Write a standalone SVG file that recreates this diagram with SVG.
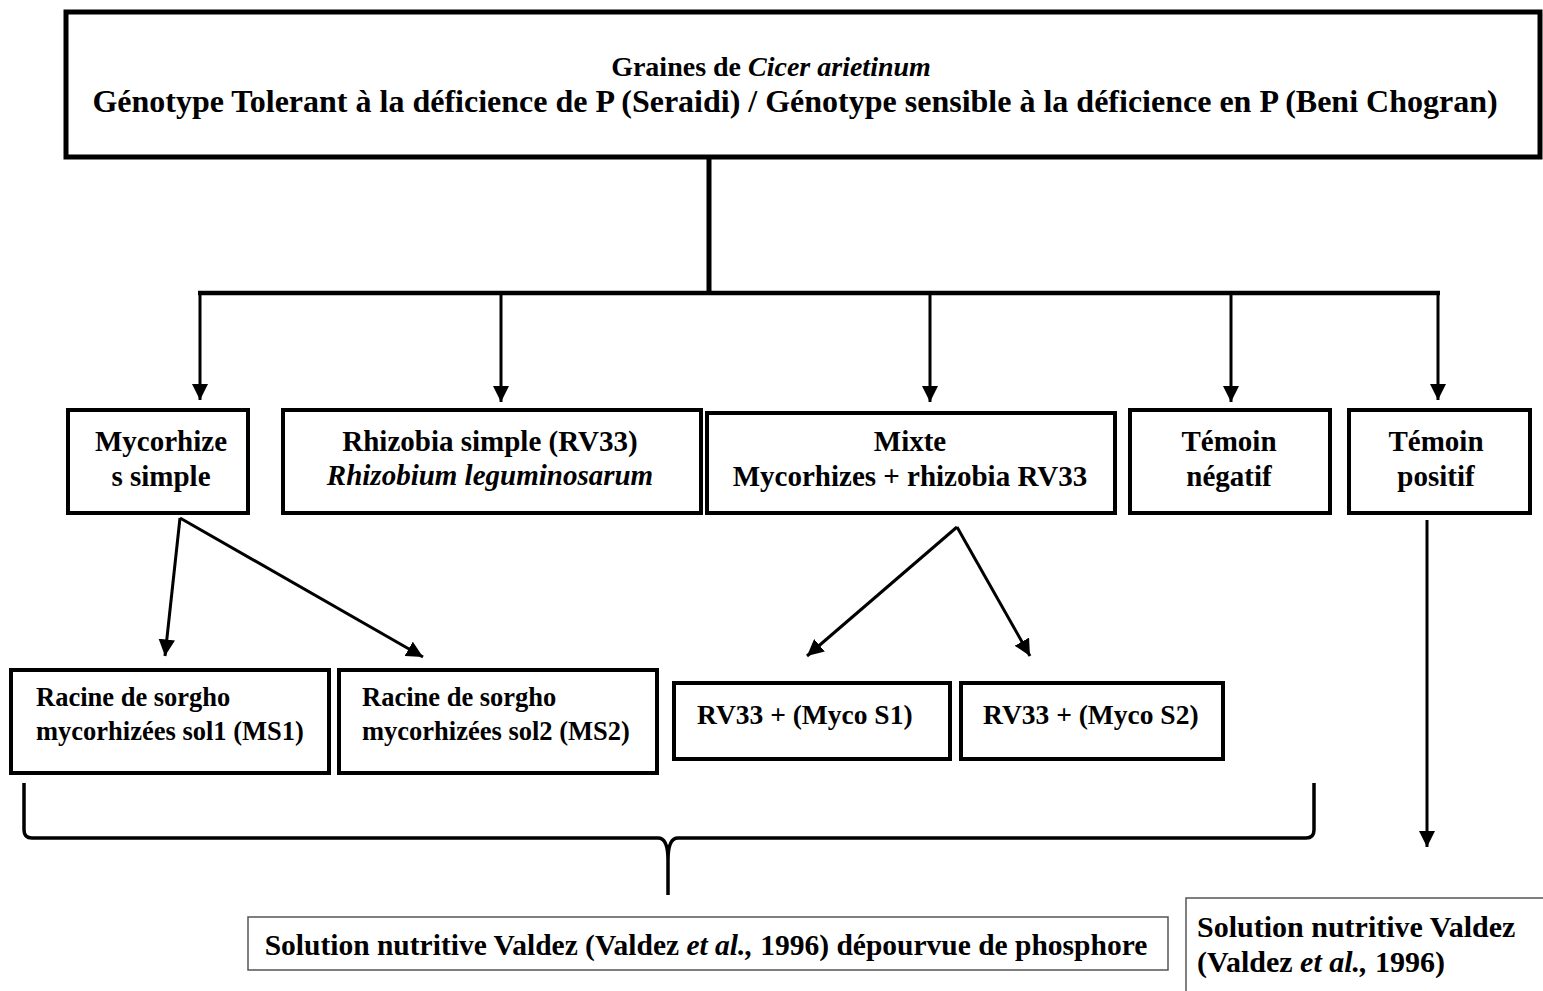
<svg xmlns="http://www.w3.org/2000/svg" width="1543" height="991" viewBox="0 0 1543 991">
<style>
.box{fill:#fff;stroke:#000;stroke-width:4}
.thin{fill:#fff;stroke:#555;stroke-width:1.5}
.t{font-family:"Liberation Serif","Times New Roman",serif;font-weight:bold;fill:#000}
.c{text-anchor:middle}
.ln{stroke:#000;stroke-width:3;fill:none}
.it{font-style:italic}
.f2{font-size:29px}
.f3{font-size:26.5px}
</style>
<defs>
<marker id="ah" viewBox="0 0 10 10" refX="10" refY="5" markerWidth="5.5" markerHeight="5.5" orient="auto" markerUnits="strokeWidth">
<path d="M0,0 L10,5 L0,10 z" fill="#000"/>
</marker>
</defs>
<rect width="1543" height="991" fill="#fff"/>
<g id="connectors">
<line x1="709" y1="157" x2="709" y2="293" stroke="#000" stroke-width="5"/>
<line x1="198" y1="293" x2="1440" y2="293" stroke="#000" stroke-width="4.5"/>
<line class="ln" x1="200" y1="293" x2="200" y2="400" marker-end="url(#ah)"/>
<line class="ln" x1="501" y1="293" x2="501" y2="402" marker-end="url(#ah)"/>
<line class="ln" x1="930" y1="293" x2="930" y2="402" marker-end="url(#ah)"/>
<line class="ln" x1="1231" y1="293" x2="1231" y2="402" marker-end="url(#ah)"/>
<line class="ln" x1="1438" y1="293" x2="1438" y2="400" marker-end="url(#ah)"/>
<line class="ln" x1="180" y1="518" x2="165" y2="656" marker-end="url(#ah)"/>
<line class="ln" x1="180" y1="518" x2="423" y2="657" marker-end="url(#ah)"/>
<line class="ln" x1="957" y1="527" x2="807" y2="656" marker-end="url(#ah)"/>
<line class="ln" x1="957" y1="527" x2="1030" y2="656" marker-end="url(#ah)"/>
<line class="ln" x1="1427" y1="520" x2="1427" y2="847" marker-end="url(#ah)"/>
<path d="M24,783 L24,830 Q24,838 32,838 L658,838 Q668,838 668,860 L668,895 M668,860 Q668,838 678,838 L1306,838 Q1314,838 1314,830 L1314,783" stroke="#000" stroke-width="3.5" fill="none"/>
</g>
<g id="top">
<rect x="66" y="12" width="1474" height="145" fill="#fff" stroke="#000" stroke-width="5"/>
<text class="t c" x="771" y="76" font-size="28">Graines de <tspan class="it">Cicer arietinum</tspan></text>
<text class="t c" x="795" y="112" font-size="32">Génotype Tolerant à la déficience de P (Seraidi) / Génotype sensible à la déficience en P (Beni Chogran)</text>
</g>
<g id="myco">
<rect class="box" x="68" y="410" width="180" height="103"/>
<text class="t c f2" x="161" y="451">Mycorhize</text>
<text class="t c f2" x="161" y="486">s simple</text>
</g>
<g id="rhizo">
<rect class="box" x="283" y="410" width="418" height="103"/>
<text class="t c f2" x="490" y="451">Rhizobia simple (RV33)</text>
<text class="t c it f2" x="490" y="485">Rhizobium leguminosarum</text>
</g>
<g id="mixte">
<rect class="box" x="707" y="413" width="408" height="100"/>
<text class="t c f2" x="910" y="451">Mixte</text>
<text class="t c f2" x="910" y="486">Mycorhizes + rhizobia RV33</text>
</g>
<g id="temneg">
<rect class="box" x="1130" y="410" width="200" height="103"/>
<text class="t c f2" x="1229" y="451">Témoin</text>
<text class="t c f2" x="1229" y="486">négatif</text>
</g>
<g id="tempos">
<rect class="box" x="1349" y="410" width="181" height="103"/>
<text class="t c f2" x="1436" y="451">Témoin</text>
<text class="t c f2" x="1436" y="486">positif</text>
</g>
<g id="ms1">
<rect class="box" x="11" y="670" width="318" height="103"/>
<text class="t f3" x="36" y="706">Racine de sorgho</text>
<text class="t f3" x="36" y="740">mycorhizées sol1 (MS1)</text>
</g>
<g id="ms2">
<rect class="box" x="339" y="670" width="318" height="103"/>
<text class="t f3" x="362" y="706">Racine de sorgho</text>
<text class="t f3" x="362" y="740">mycorhizées sol2 (MS2)</text>
</g>
<g id="rvs1">
<rect class="box" x="674" y="683" width="276" height="76"/>
<text class="t" x="697" y="724" font-size="27.5">RV33 + (Myco S1)</text>
</g>
<g id="rvs2">
<rect class="box" x="961" y="683" width="262" height="76"/>
<text class="t" x="983" y="724" font-size="27.5">RV33 + (Myco S2)</text>
</g>
<g id="sol1">
<rect class="thin" x="248" y="917" width="920" height="53"/>
<text class="t c" x="706" y="955" font-size="29.5">Solution nutritive Valdez (Valdez <tspan class="it">et al.,</tspan> 1996) dépourvue de phosphore</text>
</g>
<g id="sol2">
<rect class="thin" x="1186" y="898" width="360" height="100"/>
<text class="t" x="1197" y="937" font-size="30">Solution nutritive Valdez</text>
<text class="t" x="1197" y="972" font-size="30">(Valdez <tspan class="it">et al.,</tspan> 1996)</text>
</g>
</svg>
